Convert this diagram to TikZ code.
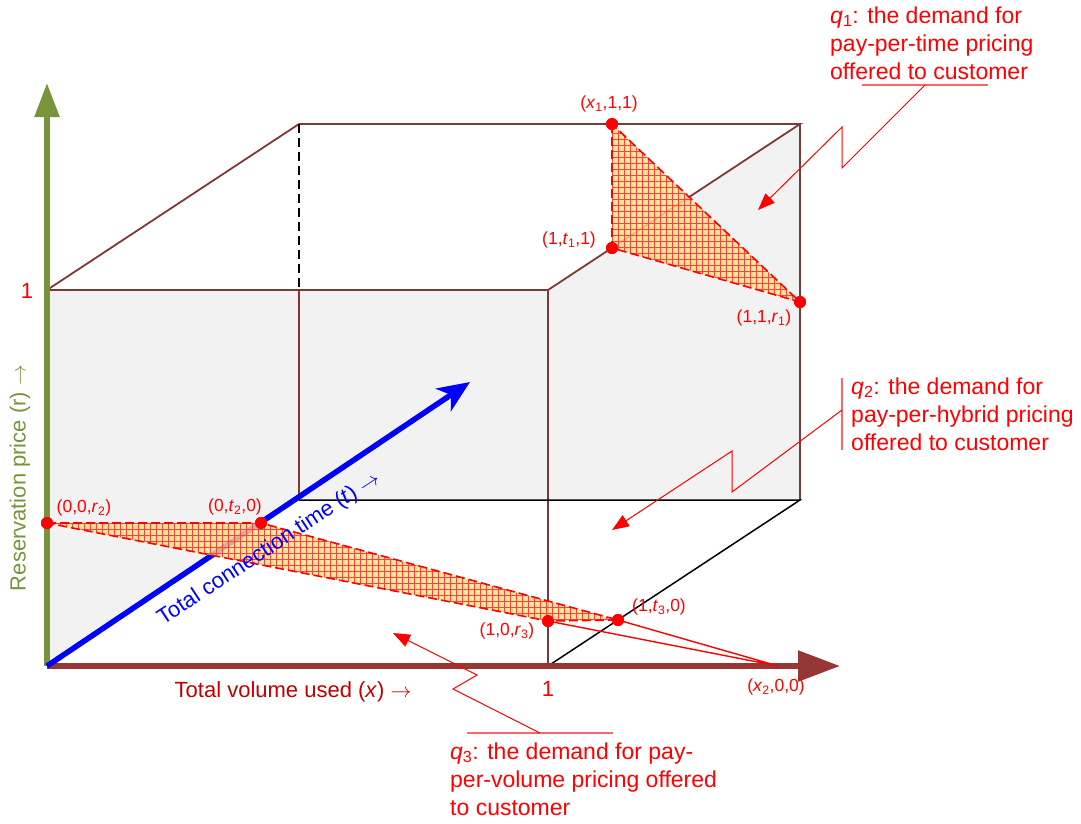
\documentclass[tikz,border=0pt]{standalone}
\usepackage{fontspec}
\setmainfont{Liberation Sans}
\usetikzlibrary{arrows.meta,patterns.meta}
\definecolor{boxbrown}{RGB}{122,58,56}
\definecolor{axbrown}{RGB}{149,55,53}
\definecolor{olivegreen}{RGB}{119,147,60}
\definecolor{facegray}{RGB}{242,242,242}
\definecolor{xlabelred}{RGB}{192,0,0}
\definecolor{plaidbg}{RGB}{255,226,120}
\newcommand\mysub[1]{\textsubscript{#1}}
\begin{document}
\begin{tikzpicture}[x=1pt,y=-1pt,
  edge/.style={draw=boxbrown, line width=1.8pt},
  hidden/.style={draw=black, line width=1.6pt, dash pattern=on 9pt off 5pt},
  blackedge/.style={draw=black, line width=1.5pt},
  dot/.style={circle, fill=red, inner sep=0pt, minimum size=12pt},
  plab/.style={text=red, font=\fontsize{17.5}{20}\selectfont, inner sep=0pt},
  onelab/.style={text=red, font=\fontsize{22}{26}\selectfont, inner sep=0pt},
  call/.style={text=red, font=\fontsize{23}{28}\selectfont, align=left, anchor=west, inner sep=0pt},
  callline/.style={draw=red, line width=1pt},
  underl/.style={draw=red!60, line width=1.3pt},
  callarrow/.style={callline, -{Triangle[length=17pt,width=13pt]}},
  demand/.style={fill=plaidbg, fill opacity=0.8},
  plaid/.style={pattern={Hatch[angle=0,distance=6pt,line width=0.8pt]}, pattern color=red!75, fill opacity=0.55},
  dashedge/.style={draw=red, line width=1.6pt, dash pattern=on 9pt off 4pt},
  axlab/.style={font=\fontsize{22}{26}\selectfont, inner sep=0pt}
]
\useasboundingbox (0,0) rectangle (1081,823);
% box corners
\coordinate (O) at (47,666);
\coordinate (X1) at (548,666);
\coordinate (R1) at (47,290);
\coordinate (XR) at (548,290);
\coordinate (T1) at (299,500);
\coordinate (TR) at (299,124);
\coordinate (XTR) at (800,124);
\coordinate (XT) at (800,500);
\coordinate (Tmid) at (299,290);
\coordinate (xend) at (840,666);
\coordinate (rend) at (47,83);
\coordinate (tend) at (470,382);
% faces
\fill[facegray] (R1)--(XR)--(XTR)--(XT)--(T1)--(O)--cycle;
% edges
\draw[edge] (R1)--(TR)--(XTR)--(XR)--cycle;
\draw[edge] (XR)--(X1);
\draw[edge] (XTR)--(XT);
\draw[hidden] (TR)--(Tmid);
\draw[edge] (Tmid)--(T1);
\draw[blackedge] (T1)--(XT)--(X1);
% axes
\draw[olivegreen, line width=5.5pt, -{Triangle[length=34pt,width=24pt]}] (O)--(rend);
\draw[axbrown, line width=5.5pt, -{Triangle[length=42pt,width=30pt]}] (O)--(xend);
\draw[blue, line width=5.5pt, -{Stealth[length=32pt,width=27pt,inset=9pt]}] (O)--(tend);
% points
\node[dot] (pA) at (612,124) {};
\node[dot] (pB) at (612,248) {};
\node[dot] (pC) at (800,302) {};
\node[dot] (pD) at (47,523) {};
\node[dot] (pE) at (261,523) {};
\node[dot] (pF) at (548,621) {};
\node[dot] (pG) at (618,620) {};
\coordinate (pH) at (778,666);
% demand regions
\fill[demand] (pA.center)--(pB.center)--(pC.center)--cycle;
\fill[plaid] (pA.center)--(pB.center)--(pC.center)--cycle;
\fill[demand] (pD.center)--(pE.center)--(pG.center)--(pF.center)--cycle;
\fill[plaid] (pD.center)--(pE.center)--(pG.center)--(pF.center)--cycle;
\draw[dashedge] (pA.center)--(pB.center)--(pC.center)--cycle;
\draw[dashedge] (pD.center)--(pE.center)--(pG.center)--(pF.center)--cycle;
\draw[red, line width=1.4pt] (pF.center)--(pH) (pG.center)--(pH);
% redraw dots on top
\foreach \p in {pA,pB,pC,pD,pE,pF,pG} \fill[red] (\p) circle (6pt);
% point labels
\node[plab] (lA) at (609,104) {(\textit{x}\mysub{1},1,1)};
\node[plab] (lB) at (569,240) {(1,\textit{t}\mysub{1},1)};
\node[plab] (lC) at (764,318) {(1,1,\textit{r}\mysub{1})};
\node[plab] (lD) at (84,508) {(0,0,\textit{r}\mysub{2})};
\node[plab] (lE) at (235,507) {(0,\textit{t}\mysub{2},0)};
\node[plab] (lF) at (507,631) {(1,0,\textit{r}\mysub{3})};
\node[plab] (lG) at (659,607) {(1,\textit{t}\mysub{3},0)};
\node[plab] (lH) at (776,687) {(\textit{x}\mysub{2},0,0)};
\node[onelab] (oneR) at (27,291) {1};
\node[onelab] (oneX) at (548,689) {1};
% axis labels
\node[axlab, text=olivegreen, rotate=90] (rlab) at (20,478) {Reservation price (r) $\rightarrow$};
\node[axlab, text=xlabelred] (xlab) at (293,692) {Total volume used (\textit{x}) $\rightarrow$};
\node[axlab, text=blue, rotate=33.4] (tlab) at (269,549) {Total connection time (\textit{t}) $\rightarrow$};
% callouts
\node[call] (q1) at (830,43) {\textit{q}\mysub{1}: the demand for\\pay-per-time pricing\\offered to customer};
\node[call] (q2) at (851,414) {\textit{q}\mysub{2}: the demand for\\pay-per-hybrid pricing\\offered to customer};
\node[call] (q3) at (450,779) {\textit{q}\mysub{3}: the demand for pay-\\per-volume pricing offered\\to customer};
\coordinate (u1a) at (862,85); \coordinate (u1b) at (988,85); \coordinate (u1m) at (925,85);
\coordinate (z1a) at (842,168); \coordinate (z1b) at (842,127); \coordinate (a1) at (758,210);
\draw[underl] (u1a)--(u1b);
\draw[callarrow] (u1m)--(z1a)--(z1b)--(a1);
\coordinate (u2a) at (842,378); \coordinate (u2b) at (842,450); \coordinate (u2m) at (842,410);
\coordinate (z2a) at (732,492); \coordinate (z2b) at (732,451); \coordinate (a2) at (612,530);
\draw[underl] (u2a)--(u2b);
\draw[callarrow] (u2m)--(z2a)--(z2b)--(a2);
\coordinate (u3a) at (467,733); \coordinate (u3b) at (613,733); \coordinate (u3m) at (540,733);
\coordinate (z3a) at (453,689); \coordinate (z3b) at (477,675); \coordinate (a3) at (393,633);
\draw[underl] (u3a)--(u3b);
\draw[callarrow] (u3m)--(z3a)--(z3b)--(a3);
\end{tikzpicture}
\end{document}
